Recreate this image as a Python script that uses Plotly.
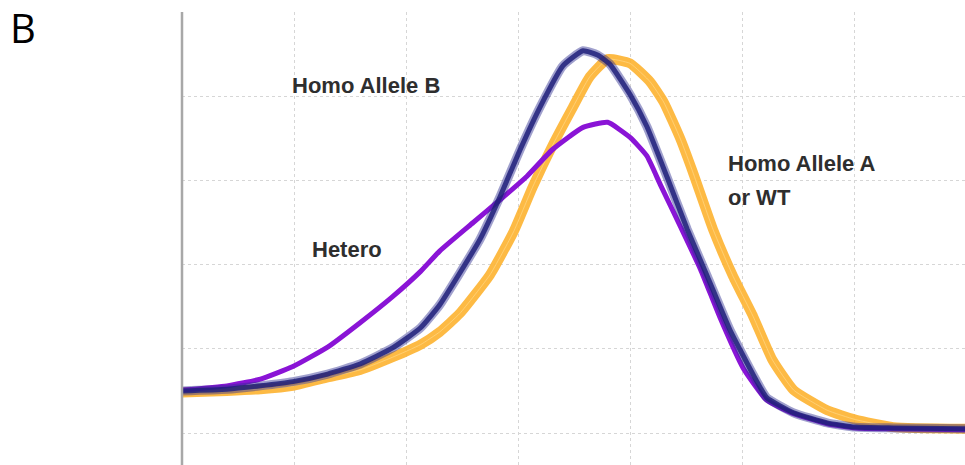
import plotly.graph_objects as go

# ---- data (arbitrary melt units; x grid every 1, y grid every 1) ----
hetero_x = [0, 0.40, 0.70, 0.99, 1.30, 1.59, 1.88, 2.13, 2.30, 2.60, 2.84, 3.08, 3.31, 3.58, 3.80,
            4.00, 4.15, 4.27, 4.45, 4.63, 4.80, 5.01, 5.22, 5.46, 5.76, 6.01, 6.35, 6.99]
hetero_y = [0.51, 0.56, 0.64, 0.79, 1.02, 1.31, 1.62, 1.92, 2.16, 2.50, 2.77, 3.05, 3.37, 3.63, 3.69,
            3.51, 3.29, 2.95, 2.45, 1.94, 1.38, 0.77, 0.39, 0.23, 0.11, 0.06, 0.05, 0.04]

homoB_x = [0, 0.40, 0.70, 0.99, 1.30, 1.59, 1.88, 2.13, 2.30, 2.48, 2.66, 2.84, 3.02, 3.20, 3.40,
           3.58, 3.71, 3.82, 4.00, 4.15, 4.33, 4.51, 4.69, 4.89, 5.10, 5.22, 5.46, 5.76, 6.01,
           6.35, 6.99]
homoB_y = [0.50, 0.52, 0.56, 0.61, 0.70, 0.82, 1.01, 1.25, 1.52, 1.90, 2.30, 2.81, 3.37, 3.88, 4.36,
           4.54, 4.49, 4.38, 4.02, 3.64, 3.04, 2.42, 1.86, 1.23, 0.69, 0.42, 0.24, 0.12, 0.07,
           0.06, 0.05]

homoA_x = [0, 0.40, 0.70, 0.99, 1.30, 1.59, 1.88, 2.13, 2.30, 2.48, 2.75, 2.96, 3.13, 3.31, 3.49,
           3.64, 3.80, 4.00, 4.18, 4.30, 4.45, 4.56, 4.74, 4.92, 5.10, 5.27, 5.46, 5.76, 6.01,
           6.35, 6.99]
homoA_y = [0.48, 0.50, 0.52, 0.56, 0.66, 0.75, 0.90, 1.05, 1.20, 1.42, 1.88, 2.39, 2.92, 3.42, 3.87,
           4.23, 4.44, 4.39, 4.17, 3.93, 3.49, 3.10, 2.42, 1.86, 1.38, 0.87, 0.51, 0.27, 0.16,
           0.07, 0.05]

labels = ["Homo Allele B", "Hetero", "Homo Allele A", "or WT"]

sp = dict(shape="spline", smoothing=0.45)
fig = go.Figure()
# Homo Allele A / WT (orange band)
fig.add_trace(go.Scatter(x=homoA_x, y=homoA_y, mode="lines",
                         line=dict(color="rgba(253,178,48,0.9)", width=10, **sp)))
fig.add_trace(go.Scatter(x=homoA_x, y=homoA_y, mode="lines",
                         line=dict(color="rgba(255,214,130,0.75)", width=1, **sp)))
# Hetero (purple)
fig.add_trace(go.Scatter(x=hetero_x, y=hetero_y, mode="lines",
                         line=dict(color="#8a14d6", width=5, **sp)))
# Homo Allele B (navy band)
fig.add_trace(go.Scatter(x=homoB_x, y=homoB_y, mode="lines",
                         line=dict(color="rgba(45,45,145,0.45)", width=9, **sp)))
fig.add_trace(go.Scatter(x=homoB_x, y=homoB_y, mode="lines",
                         line=dict(color="rgba(32,32,122,0.85)", width=5, **sp)))

txt = dict(family="Liberation Sans", size=22, color="#2e2e2e")
fig.add_annotation(x=0.964, y=4.13, text="<b>%s</b>" % labels[0], showarrow=False, xanchor="left", yanchor="middle", font=txt)
fig.add_annotation(x=1.14, y=2.18, text="<b>%s</b>" % labels[1], showarrow=False, xanchor="left", yanchor="middle", font=txt)
fig.add_annotation(x=4.86, y=3.20, text="<b>%s</b>" % labels[2], showarrow=False, xanchor="left", yanchor="middle", font=txt)
fig.add_annotation(x=4.86, y=2.80, text="<b>%s</b>" % labels[3], showarrow=False, xanchor="left", yanchor="middle", font=txt)
fig.add_annotation(xref="paper", yref="paper", x=-0.222, y=0.966, text="B", showarrow=False,
                   xanchor="left", yanchor="middle", font=dict(family="Open Sans", size=40, color="#000"))

fig.update_xaxes(range=[0, 6.99], dtick=1, tick0=0, showticklabels=False, showgrid=True,
                 gridcolor="#d6d6d6", griddash="dot", gridwidth=1.3, zeroline=False,
                 showline=False, ticks="")
fig.update_yaxes(range=[-0.38, 5.0], dtick=1, tick0=0, showticklabels=False, showgrid=True,
                 gridcolor="#d6d6d6", griddash="dot", gridwidth=1.3, zeroline=False,
                 showline=False, ticks="")
fig.add_shape(type="line", xref="paper", yref="paper", x0=0, x1=0, y0=0, y1=1,
              line=dict(color="#a8a8a8", width=2.5))

fig.update_layout(width=965, height=465, margin=dict(l=182, r=0, t=12, b=0),
                  paper_bgcolor="white", plot_bgcolor="white", showlegend=False)
fig.write_html("out.html", config={"displayModeBar": False},
               post_script="document.body.style.margin='0px';")
